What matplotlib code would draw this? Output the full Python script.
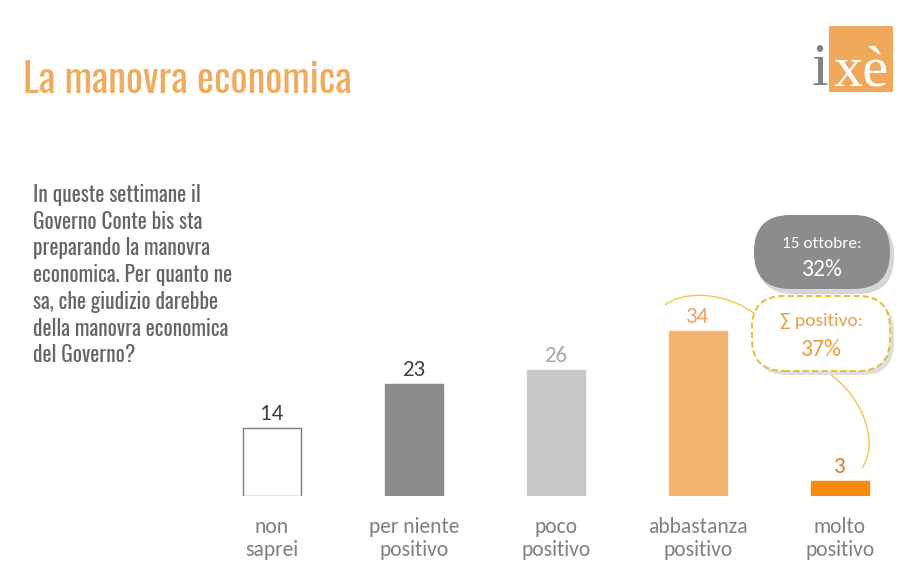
import matplotlib
matplotlib.use("Agg")
import matplotlib.pyplot as plt
from matplotlib.patches import FancyBboxPatch, Rectangle, PathPatch
from matplotlib.path import Path

categories = ["non\nsaprei", "per niente\npositivo", "poco\npositivo", "abbastanza\npositivo", "molto\npositivo"]
values = [14, 23, 26, 34, 3]
bar_colors = ["#ffffff", "#8c8c8c", "#c8c8c8", "#f2b46e", "#f98b0c"]
edge_colors = ["#7f7f7f", "#8c8c8c", "#c8c8c8", "#f2b46e", "#f98b0c"]
label_colors = ["#404040", "#404040", "#a6a6a6", "#e9a262", "#e07a2a"]
title = "La manovra economica"
question_lines = ["In queste settimane il", "Governo Conte bis sta", "preparando la manovra",
                  "economica. Per quanto ne", "sa, che giudizio darebbe",
                  "della manovra economica", "del Governo?"]
prev_label = "15 ottobre:"
prev_value = "32%"
sum_label = "∑ positivo:"
sum_value = "37%"

W, H = 910, 569
fig = plt.figure(figsize=(W / 100, H / 100), dpi=100)
fig.patch.set_facecolor("white")

def fx(x):
    return x / W

def fy(y):
    return 1 - y / H

body_font = ["Carlito", "DejaVu Sans"]
narrow_font = ["Oswald", "DejaVu Sans"]

# Axes: bar centres at px 272 + 142*i, baseline at px 496, 4.85 px per unit
PX_PER_UNIT = 4.85
ax_left, ax_right = 200, 905
ax_top, ax_bottom = 206, 496
ax = fig.add_axes([fx(ax_left), fy(ax_bottom), (ax_right - ax_left) / W, (ax_bottom - ax_top) / H])
ax.set_xlim((ax_left - 272) / 142, (ax_right - 272) / 142)
ax.set_ylim(0, (ax_bottom - ax_top) / PX_PER_UNIT)
ax.axis("off")

xs = list(range(len(values)))
ax.bar(xs, values, width=58 / 142, color=bar_colors, edgecolor=edge_colors, linewidth=1.0)
for x, v, c in zip(xs, values, label_colors):
    ax.text(x, v + 8 / PX_PER_UNIT, str(v), ha="center", va="baseline", fontsize=16.5,
            color=c, family=body_font)
for x, cat in zip(xs, categories):
    for j, part in enumerate(cat.split("\n")):
        ax.text(x, -(37 + 23 * j) / PX_PER_UNIT, part, ha="center", va="baseline",
                fontsize=15.5, color="#808080", family=body_font)

# Title
fig.text(fx(23), fy(93), title, fontsize=29, color="#f0ac5e", family=narrow_font,
         va="baseline", fontweight="light")

# Question
for i, line in enumerate(question_lines):
    fig.text(fx(33), fy(202 + i * 26.7), line, fontsize=15.5, color="#666666", family=narrow_font,
             va="baseline", ha="left", fontweight="light")

# Logo
fig.patches.append(Rectangle((fx(829), fy(92)), fx(64), 66 / H, transform=fig.transFigure,
                             facecolor="#f0a95a", edgecolor="none"))
fig.text(fx(812), fy(85), "i", fontsize=44, color="#80848a", family=["Liberation Serif"], va="baseline")
fig.text(fx(833), fy(85), "xè", fontsize=42, color="white", family=["Liberation Serif"], va="baseline")

def rounded(x0, y0, x1, y1, fc, ec, ls="-", lw=1.0, z=5, r=0.035):
    p = FancyBboxPatch((fx(x0), fy(y1)), fx(x1 - x0), (y1 - y0) / H,
                       boxstyle=f"round,pad=0,rounding_size={r}",
                       transform=fig.transFigure, facecolor=fc, edgecolor=ec,
                       linestyle=ls, linewidth=lw, zorder=z, mutation_aspect=W / H)
    fig.patches.append(p)

# Grey callout with shadow
rounded(757, 219, 894, 294, "#d6d6d6", "none", z=4, r=0.04)
rounded(754, 215, 890, 289, "#8c8c8c", "none", z=5, r=0.04)
fig.text(fx(822), fy(244), prev_label, fontsize=12.5, color="white", family=body_font,
         ha="center", va="center", zorder=6)
fig.text(fx(822), fy(270), prev_value, fontsize=17, color="white", family=body_font,
         ha="center", va="center", zorder=6)

# Connector curves
curve1 = Path([(fx(665), fy(305)), (fx(685), fy(290)), (fx(725), fy(292)), (fx(755), fy(314))],
              [Path.MOVETO, Path.CURVE4, Path.CURVE4, Path.CURVE4])
fig.patches.append(PathPatch(curve1, transform=fig.transFigure, facecolor="none",
                             edgecolor="#efc84a", linewidth=1.0, zorder=3))
curve2 = Path([(fx(827), fy(372)), (fx(862), fy(395)), (fx(880), fy(442)), (fx(862), fy(468))],
              [Path.MOVETO, Path.CURVE4, Path.CURVE4, Path.CURVE4])
fig.patches.append(PathPatch(curve2, transform=fig.transFigure, facecolor="none",
                             edgecolor="#efc84a", linewidth=1.0, zorder=3))

# Yellow dashed callout with shadow
rounded(755, 300, 894, 375, "#dedede", "none", z=4)
rounded(752, 296, 890, 371, "white", "#e6c13a", ls=(0, (3, 1.5)), lw=1.5, z=5)
fig.text(fx(821), fy(321), sum_label, fontsize=14, color="#e9a040",
         family=["Carlito", "DejaVu Sans"], ha="center", va="center", zorder=6)
fig.text(fx(821), fy(350), sum_value, fontsize=17, color="#e9a040", family=body_font,
         ha="center", va="center", zorder=6)

fig.savefig("out.png", dpi=100)
